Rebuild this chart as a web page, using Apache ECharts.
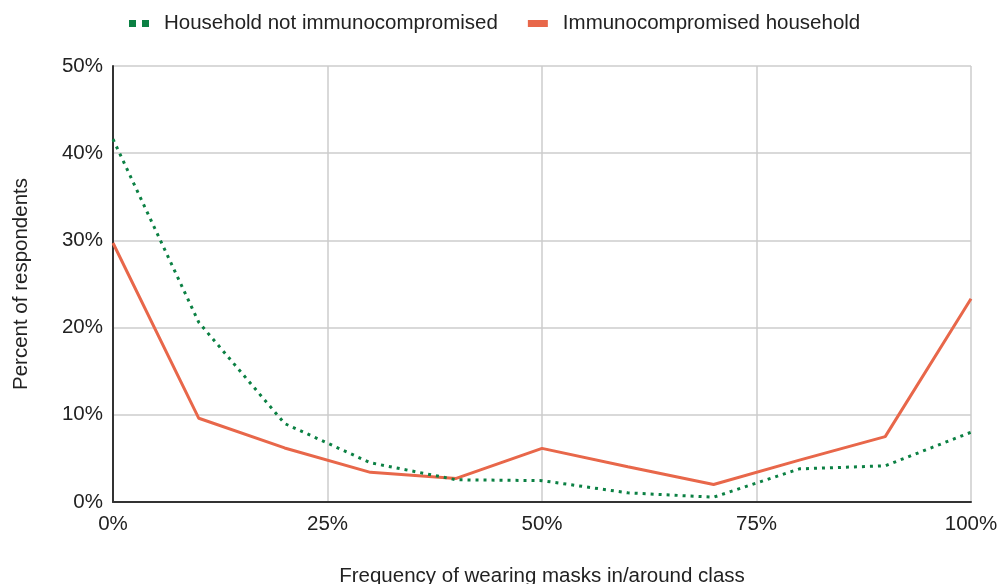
<!DOCTYPE html>
<html><head><meta charset="utf-8">
<script src="https://cdn.jsdelivr.net/npm/echarts@6/dist/echarts.min.js"></script>
<style>html,body{margin:0;padding:0;background:#fff}#c{width:1000px;height:584px}</style>
</head><body><div id="c"></div>
<script>
const xValues = [0, 10, 20, 30, 40, 50, 60, 70, 80, 90, 100];
const notImmuno = [41.6, 20.6, 9.0, 4.5, 2.55, 2.45, 1.05, 0.55, 3.8, 4.15, 8.0];
const immuno = [29.7, 9.6, 6.2, 3.4, 2.7, 6.15, 4.05, 2.0, 4.8, 7.5, 23.3];
const seriesNames = ['Household not immunocompromised', 'Immunocompromised household'];
const xTicks = [0, 25, 50, 75, 100];
const yTicks = [0, 10, 20, 30, 40, 50];
const xTitle = 'Frequency of wearing masks in/around class';
const yTitle = 'Percent of respondents';

const green = '#0b8043', red = '#e8674a';
const font = 'Liberation Sans';
const fs = 20.5;
const chart = echarts.init(document.getElementById('c'));
const pair = arr => xValues.map((x, i) => [x, arr[i]]);
chart.setOption({
  animation: false,
  textStyle: { fontFamily: font },
  legend: {
    top: 8, left: 124, itemGap: 30, itemWidth: 20, itemHeight: 7,
    textStyle: { fontSize: fs, color: '#222', fontFamily: font, padding: [0, 0, 0, 10] },
    data: [
      { name: seriesNames[0], icon: 'path://M0,0H7V7H0Z M13,0H20V7H13Z', itemStyle: { color: green } },
      { name: seriesNames[1], icon: 'rect', itemStyle: { color: red } }
    ]
  },
  grid: { left: 113, right: 29, top: 66, bottom: 82, containLabel: false, outerBoundsMode: 'none' },
  xAxis: {
    type: 'value', min: 0, max: 100, interval: 25,
    name: xTitle, nameLocation: 'middle', nameGap: 64,
    nameTextStyle: { fontSize: fs, color: '#222', fontFamily: font },
    axisLine: { show: true, lineStyle: { color: '#333', width: 2 } },
    axisTick: { show: false },
    axisLabel: { fontSize: fs, color: '#222', margin: 12, formatter: v => v + '%' },
    splitLine: { show: true, lineStyle: { color: '#ccc', width: 1.5 } }
  },
  yAxis: {
    type: 'value', min: 0, max: 50, interval: 10,
    name: yTitle, nameLocation: 'middle', nameGap: 81, nameRotate: 90,
    nameTextStyle: { fontSize: fs, color: '#222', fontFamily: font },
    axisLine: { show: true, lineStyle: { color: '#333', width: 2 } },
    axisTick: { show: false },
    axisLabel: { fontSize: fs, color: '#222', margin: 10, formatter: v => v + '%' },
    splitLine: { show: true, lineStyle: { color: '#ccc', width: 1.5 } }
  },
  series: [
    { name: seriesNames[0], type: 'line', data: pair(notImmuno), showSymbol: false, symbol: 'none',
      lineStyle: { color: green, width: 3, type: [3, 5] }, itemStyle: { color: green }, z: 3 },
    { name: seriesNames[1], type: 'line', data: pair(immuno), showSymbol: false, symbol: 'none',
      lineStyle: { color: red, width: 3 }, itemStyle: { color: red }, z: 2 }
  ]
});
</script></body></html>
